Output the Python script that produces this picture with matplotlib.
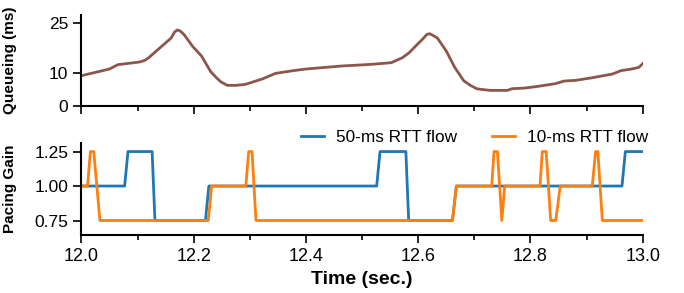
import matplotlib
matplotlib.use("Agg")
import matplotlib.pyplot as plt
from matplotlib.ticker import MultipleLocator

plt.rcParams['font.family'] = ['Liberation Sans', 'DejaVu Sans']

# queueing delay (ms)
queue_t = [12.0, 12.05, 12.065, 12.089, 12.104, 12.113, 12.12, 12.143, 12.16, 12.166,
           12.171, 12.176, 12.183, 12.198, 12.214, 12.23, 12.241, 12.249, 12.26, 12.275,
           12.292, 12.322, 12.346, 12.377, 12.40, 12.463, 12.517, 12.552, 12.572, 12.584,
           12.595, 12.607, 12.615, 12.62, 12.626, 12.634, 12.65, 12.665, 12.681, 12.693,
           12.704, 12.712, 12.728, 12.759, 12.767, 12.79, 12.813, 12.844, 12.86, 12.88,
           12.907, 12.946, 12.961, 12.98, 12.993, 13.0]
queue_ms = [9.1, 11.1, 12.4, 12.9, 13.2, 13.7, 14.5, 17.9, 20.4, 22.2,
            22.8, 22.5, 21.4, 17.9, 15.0, 10.4, 8.4, 7.2, 6.2, 6.2,
            6.5, 8.1, 9.8, 10.6, 11.1, 12.0, 12.5, 13.0, 14.5, 16.0,
            17.9, 19.9, 21.4, 21.7, 21.2, 20.4, 16.5, 11.6, 7.6, 6.2,
            5.2, 5.0, 4.7, 4.7, 5.2, 5.4, 5.9, 6.7, 7.5, 7.7,
            8.4, 9.6, 10.6, 11.1, 11.6, 12.7]

# pacing gain, 50-ms RTT flow
gain50_t = [12.0, 12.077, 12.083, 12.126, 12.131, 12.221, 12.227, 12.526, 12.532,
            12.578, 12.583, 12.661, 12.668, 12.963, 12.969, 13.0]
gain50 = [1.0, 1.0, 1.25, 1.25, 0.75, 0.75, 1.0, 1.0, 1.25,
          1.25, 0.75, 0.75, 1.0, 1.0, 1.25, 1.25]

# pacing gain, 10-ms RTT flow
gain10_t = [12.0, 12.011, 12.016, 12.022, 12.033, 12.226, 12.232, 12.293, 12.298, 12.304,
            12.311, 12.661, 12.668, 12.731, 12.735, 12.741, 12.749, 12.754, 12.817, 12.821,
            12.828, 12.836, 12.845, 12.853, 12.91, 12.916, 12.92, 12.928, 13.0]
gain10 = [1.0, 1.0, 1.25, 1.25, 0.75, 0.75, 1.0, 1.0, 1.25, 1.25,
          0.75, 0.75, 1.0, 1.0, 1.25, 1.25, 0.75, 1.0, 1.0, 1.25,
          1.25, 0.75, 0.75, 1.0, 1.0, 1.25, 1.25, 0.75, 0.75]

fig = plt.figure(figsize=(6.84, 2.93), dpi=100)
ax1 = fig.add_axes([0.119, 0.638, 0.8207, 0.311])
ax2 = fig.add_axes([0.119, 0.198, 0.8207, 0.313])

ax1.plot(queue_t, queue_ms, color='#8c564b', lw=2, solid_joinstyle='round')
ax2.plot(gain50_t, gain50, color='#1f77b4', lw=2, label='50-ms RTT flow')
ax2.plot(gain10_t, gain10, color='#ff7f0e', lw=2, label='10-ms RTT flow')

for ax in (ax1, ax2):
    ax.set_xlim(12.0, 13.0)
    ax.spines['top'].set_visible(False)
    ax.spines['right'].set_visible(False)
    ax.spines['left'].set_linewidth(1.5)
    ax.spines['bottom'].set_linewidth(1.5)
    ax.xaxis.set_major_locator(MultipleLocator(0.2))
    ax.xaxis.set_minor_locator(MultipleLocator(0.1))
    ax.tick_params(which='major', direction='out', length=6, width=1.2, labelsize=12.5)
    ax.tick_params(which='minor', direction='out', length=3.5, width=1.2)
    ax.tick_params(axis='x', labelsize=13)

ax1.set_ylim(0, 27.3)
ax1.set_yticks([0, 10, 25])
ax1.tick_params(axis='x', which='both', labelbottom=False)
ax1.set_ylabel('Queueing (ms)', fontsize=11, fontweight='bold')
ax1.yaxis.set_label_coords(-0.115, 0.5)

ax2.set_ylim(0.645, 1.31)
ax2.set_yticks([0.75, 1.0, 1.25])
ax2.set_yticklabels(['0.75', '1.00', '1.25'])
ax2.set_ylabel('Pacing Gain', fontsize=11, fontweight='bold')
ax2.yaxis.set_label_coords(-0.115, 0.5)
ax2.set_xticks([12.0, 12.2, 12.4, 12.6, 12.8, 13.0])
ax2.set_xticklabels(['12.0', '12.2', '12.4', '12.6', '12.8', '13.0'])
ax2.set_xlabel('Time (sec.)', fontsize=14, fontweight='bold', labelpad=4)

ax2.legend(loc='center right', bbox_to_anchor=(1.038, 1.06), ncol=2, frameon=False,
           fontsize=12.4, handlelength=1.35, columnspacing=2.0, handletextpad=0.7)

fig.savefig('out.png', dpi=100)
